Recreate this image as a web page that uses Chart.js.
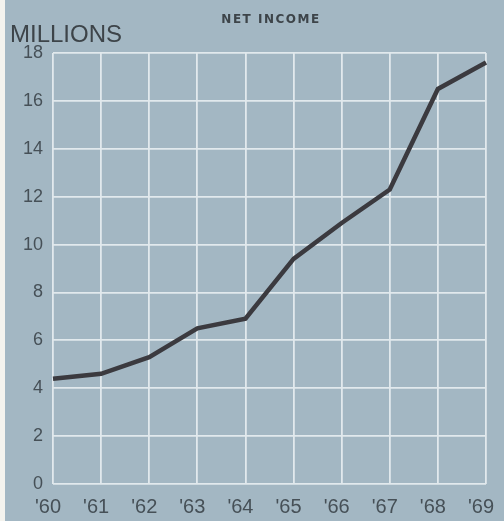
<!DOCTYPE html>
<html>
<head>
<meta charset="utf-8">
<script src="https://cdn.jsdelivr.net/npm/chart.js@4"></script>
<style>
  html, body { margin: 0; padding: 0; background: #f4f3ee; }
  #wrap { position: absolute; left: 5px; top: 0; width: 499px; height: 521px; background: #a3b7c3; }
</style>
</head>
<body>
<div id="wrap"><canvas id="incomeChart" width="499" height="521"></canvas></div>
<script>
const years = ["'60", "'61", "'62", "'63", "'64", "'65", "'66", "'67", "'68", "'69"];
const netIncome = [4.4, 4.6, 5.3, 6.5, 6.9, 9.4, 10.9, 12.3, 16.5, 17.6];
const yTicks = [0, 2, 4, 6, 8, 10, 12, 14, 16, 18];

// heading texts drawn above the plot area
const headings = {
    id: 'headings',
    afterDraw(chart) {
        const ctx = chart.ctx;
        ctx.save();
        ctx.fillStyle = '#3d4449';
        ctx.textBaseline = 'alphabetic';
        ctx.font = '24px "Liberation Sans", Arial, sans-serif';
        ctx.textAlign = 'left';
        ctx.fillText('MILLIONS', 5, 42);
        ctx.font = 'bold 12px "DejaVu Sans", sans-serif';
        ctx.letterSpacing = '1.5px';
        ctx.textAlign = 'center';
        ctx.fillText('NET INCOME', 266, 23);
        ctx.restore();
    }
};

new Chart(document.getElementById('incomeChart'), {
    type: 'line',
    data: {
        labels: years,
        datasets: [{
            label: 'Net income',
            data: netIncome,
            borderColor: '#3b3a3f',
            borderWidth: 4.5,
            pointRadius: 0,
            tension: 0,
            fill: false
        }]
    },
    options: {
        responsive: false,
        animation: false,
        layout: { padding: { top: 53, right: 18, left: 0, bottom: 0 } },
        plugins: { legend: { display: false }, tooltip: { enabled: false } },
        scales: {
            x: {
                offset: false,
                grid: { color: '#e1e9ed', lineWidth: 1.8, drawTicks: false },
                border: { display: false },
                ticks: {
                    color: '#465057',
                    font: { family: '"Liberation Sans", Arial, sans-serif', size: 20 },
                    padding: 11,
                    labelOffset: -5,
                    maxRotation: 0,
                    autoSkip: false
                },
                afterFit: s => { s.height = 37; s.paddingLeft = 0; s.paddingRight = 0; }
            },
            y: {
                min: 0,
                max: 18,
                afterBuildTicks: s => { s.ticks = yTicks.map(v => ({ value: v })); },
                grid: { color: '#e1e9ed', lineWidth: 1.8, drawTicks: false },
                border: { display: false },
                ticks: {
                    color: '#465057',
                    font: { family: '"Liberation Sans", Arial, sans-serif', size: 18 },
                    padding: 10
                },
                afterFit: s => { s.width = 48; }
            }
        }
    },
    plugins: [headings]
});
</script>
</body>
</html>
